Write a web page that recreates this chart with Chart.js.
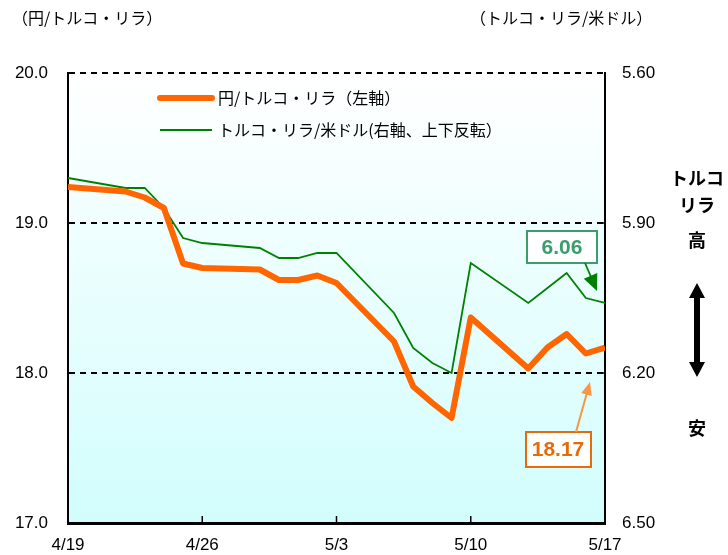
<!DOCTYPE html>
<html>
<head>
<meta charset="utf-8">
<script src="https://cdn.jsdelivr.net/npm/chart.js@4.4.1/dist/chart.umd.min.js"></script>
<style>
  body { margin: 0; background: #fff; }
  #wrap { width: 728px; height: 555px; position: relative; }
</style>
</head>
<body>
<div id="wrap"><canvas id="lira"></canvas></div>
<script>
// 営業日ごとのデータ（2019年）
const dates = ["4/19", "4/22", "4/23", "4/24", "4/25", "4/26", "4/29", "4/30", "5/1", "5/2", "5/3",
               "5/6", "5/7", "5/8", "5/9", "5/10", "5/13", "5/14", "5/15", "5/16", "5/17"];
const jpyTry = [19.24, 19.21, 19.17, 19.10, 18.73, 18.70, 18.69, 18.62, 18.62, 18.65, 18.60,
                18.21, 17.91, 17.80, 17.70, 18.37, 18.03, 18.17, 18.26, 18.13, 18.17];
const tryUsd = [5.81, 5.83, 5.83, 5.87, 5.93, 5.94, 5.95, 5.97, 5.97, 5.96, 5.96,
                6.08, 6.15, 6.18, 6.20, 5.98, 6.06, 6.03, 6.00, 6.05, 6.06];
const tickLabels = ["4/19", "4/26", "5/3", "5/10", "5/17"];

const ORANGE = "#ff6600";
const GREEN = "#008000";
const JP = "'Noto Sans CJK JP', sans-serif";
const NUM = "'Liberation Sans Narrow', 'Liberation Sans', sans-serif";

// 4/19 からの経過日数
function dayIndex(s) {
    const [m, d] = s.split("/").map(Number);
    return (Date.UTC(2019, m - 1, d) - Date.UTC(2019, 3, 19)) / 86400000;
}

const extras = {
    id: "extras",
    beforeDatasetsDraw(chart) {
        const { ctx, chartArea: a } = chart;
        const g = ctx.createLinearGradient(0, a.top, 0, a.bottom);
        g.addColorStop(0, "#ffffff");
        g.addColorStop(1, "#d2fdfd");
        ctx.save();
        ctx.globalCompositeOperation = "destination-over";
        ctx.fillStyle = g;
        ctx.fillRect(a.left, a.top, a.right - a.left, a.bottom - a.top);
        ctx.restore();
    },
    afterDraw(chart) {
        const { ctx, chartArea: a, scales } = chart;
        ctx.save();

        // 内向きの目盛り
        ctx.strokeStyle = "#000";
        ctx.lineWidth = 1.5;
        [7, 14, 21].forEach(v => {
            const x = scales.x.getPixelForValue(v);
            ctx.beginPath(); ctx.moveTo(x, a.bottom); ctx.lineTo(x, a.bottom - 7); ctx.stroke();
        });
        [5.9, 6.2].forEach(v => {
            const y = scales.y2.getPixelForValue(v);
            ctx.beginPath(); ctx.moveTo(a.right, y); ctx.lineTo(a.right - 6, y); ctx.stroke();
        });

        // 軸タイトル
        ctx.fillStyle = "#000";
        ctx.font = "16px " + JP;
        ctx.textBaseline = "middle";
        ctx.textAlign = "left";
        ctx.fillText("（円/トルコ・リラ）", 12, 18);
        ctx.fillText("（トルコ・リラ/米ドル）", 470, 18);

        // 凡例
        ctx.lineCap = "round";
        ctx.strokeStyle = ORANGE; ctx.lineWidth = 6;
        ctx.beginPath(); ctx.moveTo(160, 98); ctx.lineTo(212, 98); ctx.stroke();
        ctx.lineCap = "butt";
        ctx.strokeStyle = GREEN; ctx.lineWidth = 2;
        ctx.beginPath(); ctx.moveTo(160, 130); ctx.lineTo(212, 130); ctx.stroke();
        ctx.font = "16px " + JP;
        ctx.fillText("円/トルコ・リラ（左軸）", 218, 98);
        ctx.fillText("トルコ・リラ/米ドル(右軸、上下反転）", 218, 130);

        // 右側の説明
        ctx.font = "bold 18px " + JP;
        ctx.textAlign = "center";
        ctx.fillText("トルコ", 697, 178);
        ctx.fillText("リラ", 697, 205);
        ctx.fillText("高", 697, 240);
        ctx.fillText("安", 697, 428);
        const ax = 697, t = 283, b = 377;
        ctx.beginPath();
        ctx.moveTo(ax, t); ctx.lineTo(ax + 8, t + 15); ctx.lineTo(ax + 3, t + 15);
        ctx.lineTo(ax + 3, b - 15); ctx.lineTo(ax + 8, b - 15); ctx.lineTo(ax, b);
        ctx.lineTo(ax - 8, b - 15); ctx.lineTo(ax - 3, b - 15); ctx.lineTo(ax - 3, t + 15);
        ctx.lineTo(ax - 8, t + 15); ctx.closePath();
        ctx.fill();

        // 最新値の吹き出し
        const lastUsd = tryUsd[tryUsd.length - 1].toFixed(2);
        const lastJpy = jpyTry[jpyTry.length - 1].toFixed(2);
        ctx.lineWidth = 2;
        ctx.fillStyle = "#ffffff";
        ctx.strokeStyle = "#3b9c6c";
        ctx.fillRect(527, 231, 70, 32); ctx.strokeRect(527, 231, 70, 32);
        ctx.fillStyle = "#3b9c6c";
        ctx.font = "bold 21px 'Liberation Sans', sans-serif";
        ctx.fillText(lastUsd, 562, 248);
        arrow(ctx, 585, 263, 597, 291, GREEN, 1.8, 18, 0.42);

        ctx.fillStyle = "#ffffff";
        ctx.strokeStyle = "#e46c0a";
        ctx.fillRect(526, 432, 65, 35); ctx.strokeRect(526, 432, 65, 35);
        ctx.fillStyle = "#e46c0a";
        ctx.font = "bold 21px 'Liberation Sans', sans-serif";
        ctx.fillText(lastJpy, 558, 450);
        arrow(ctx, 576, 432, 590, 382, "#f79646", 2, 14, 0.4);

        ctx.restore();
    }
};

function arrow(ctx, x1, y1, x2, y2, color, w, head, spread) {
    const ang = Math.atan2(y2 - y1, x2 - x1);
    ctx.save();
    ctx.strokeStyle = color; ctx.fillStyle = color; ctx.lineWidth = w;
    ctx.beginPath();
    ctx.moveTo(x1, y1);
    ctx.lineTo(x2 - head * 0.8 * Math.cos(ang), y2 - head * 0.8 * Math.sin(ang));
    ctx.stroke();
    ctx.beginPath();
    ctx.moveTo(x2, y2);
    ctx.lineTo(x2 - head * Math.cos(ang - spread), y2 - head * Math.sin(ang - spread));
    ctx.lineTo(x2 - head * Math.cos(ang + spread), y2 - head * Math.sin(ang + spread));
    ctx.closePath();
    ctx.fill();
    ctx.restore();
}

document.addEventListener("DOMContentLoaded", () => {
    const ctx = document.getElementById("lira").getContext("2d");

    new Chart(ctx, {
        type: "line",
        data: {
            datasets: [
                {
                    label: "円/トルコ・リラ（左軸）",
                    data: dates.map((d, i) => ({ x: dayIndex(d), y: jpyTry[i] })),
                    borderColor: ORANGE,
                    borderWidth: 6,
                    pointRadius: 0,
                    tension: 0,
                    borderJoinStyle: "round",
                    yAxisID: "y",
                    order: 1,
                },
                {
                    label: "トルコ・リラ/米ドル(右軸、上下反転）",
                    data: dates.map((d, i) => ({ x: dayIndex(d), y: tryUsd[i] })),
                    borderColor: GREEN,
                    borderWidth: 1.8,
                    pointRadius: 0,
                    tension: 0,
                    yAxisID: "y2",
                    order: 2,
                },
            ],
        },
        options: {
            responsive: true,
            maintainAspectRatio: false,
            animation: false,
            layout: { padding: { top: 73, left: 0, right: 0, bottom: 0 } },
            plugins: {
                legend: { display: false },
                tooltip: { enabled: false },
            },
            scales: {
                x: {
                    type: "linear",
                    min: 0,
                    max: 28,
                    afterFit: s => { s.height = 32; },
                    afterBuildTicks: s => { s.ticks = [0, 7, 14, 21, 28].map(v => ({ value: v })); },
                    ticks: {
                        callback: (v, i) => tickLabels[i],
                        color: "#000",
                        font: { family: NUM, size: 17 },
                        padding: 12,
                        maxRotation: 0,
                    },
                    grid: { drawOnChartArea: false, drawTicks: false },
                    border: { display: true, color: "#000", width: 3 },
                },
                y: {
                    position: "left",
                    min: 17,
                    max: 20,
                    afterFit: s => { s.width = 68; },
                    ticks: {
                        stepSize: 1,
                        callback: v => v.toFixed(1),
                        color: "#000",
                        font: { family: NUM, size: 17 },
                        padding: 20,
                    },
                    grid: {
                        color: c => (c.tick.value === 17 ? "rgba(0,0,0,0)" : "#000"),
                        lineWidth: 2,
                        drawTicks: false,
                    },
                    border: { display: true, color: "#000", width: 2, dash: [6, 5] },
                },
                y2: {
                    position: "right",
                    min: 5.6,
                    max: 6.5,
                    reverse: true,
                    afterFit: s => { s.width = 123; },
                    afterBuildTicks: s => { s.ticks = [5.6, 5.9, 6.2, 6.5].map(v => ({ value: v })); },
                    ticks: {
                        callback: v => v.toFixed(2),
                        color: "#000",
                        font: { family: NUM, size: 17 },
                        padding: 17,
                    },
                    grid: { drawOnChartArea: false, drawTicks: false },
                    border: { display: true, color: "#000", width: 2 },
                },
            },
        },
        plugins: [extras],
    });
});
</script>
</body>
</html>
